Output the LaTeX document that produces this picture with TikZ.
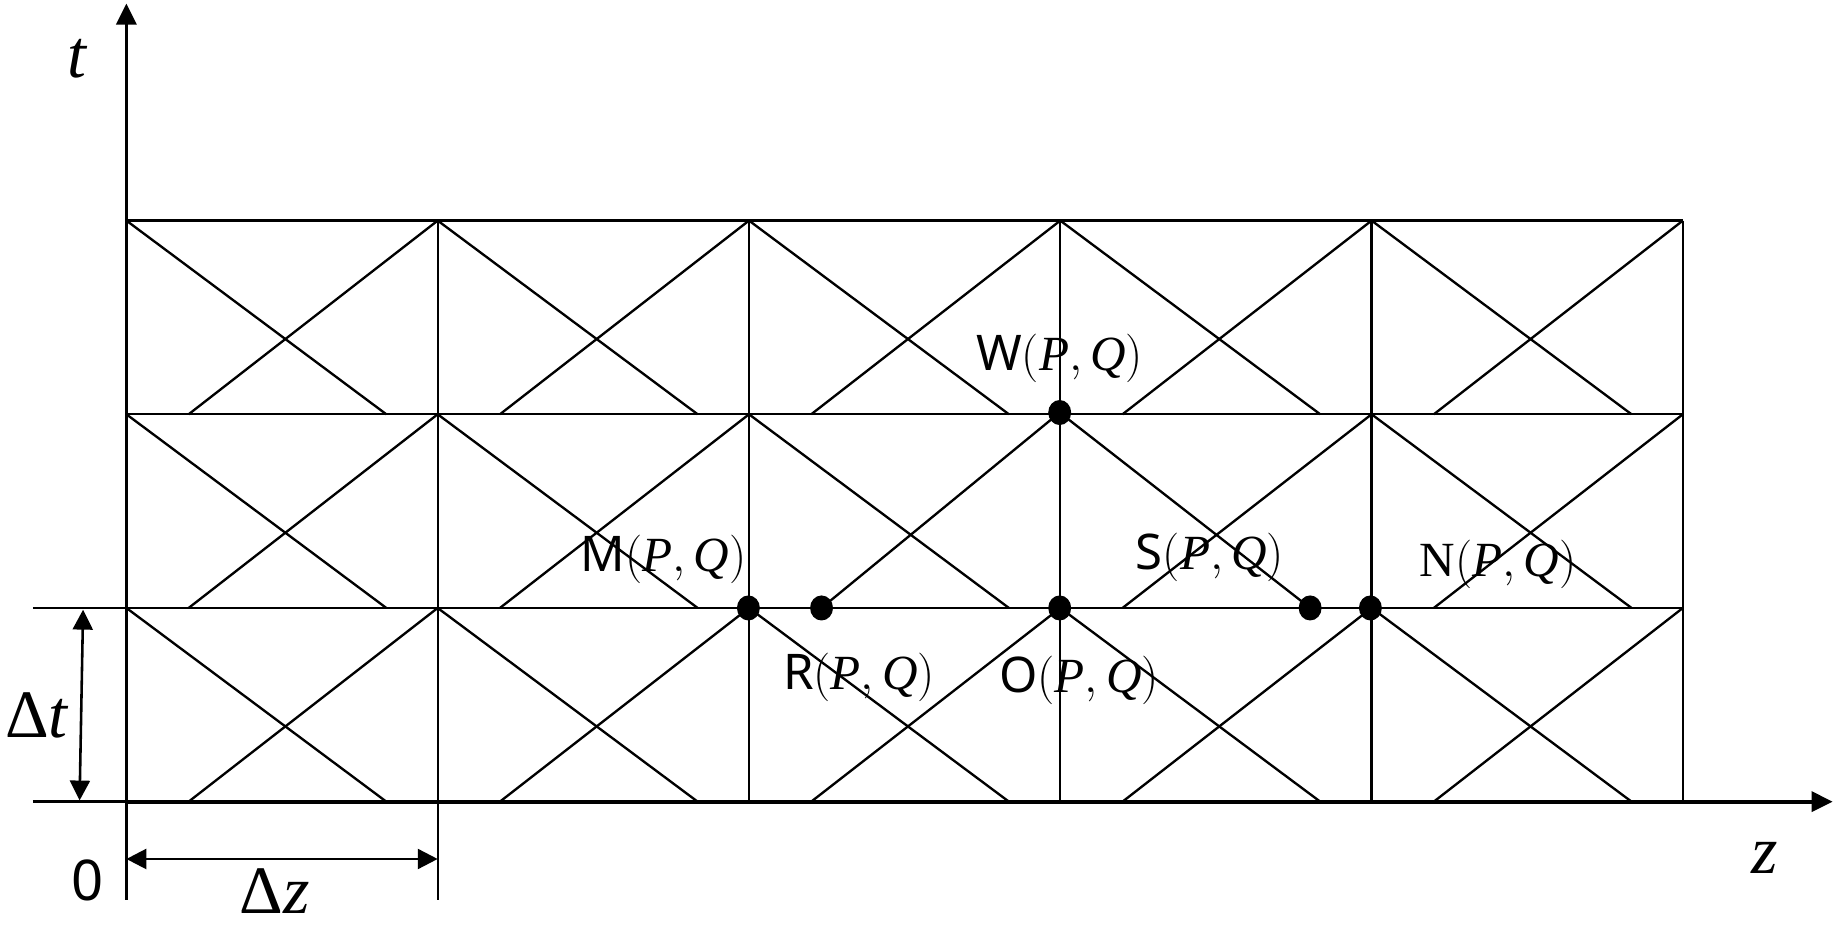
\documentclass[tikz,border=0pt]{standalone}
\usepackage{fontspec}
\usetikzlibrary{arrows.meta,shapes.geometric}
\newfontfamily\lblsans{Noto Sans}
\newfontfamily\lblserif{Liberation Serif}
\newcommand\myvar[1]{\mbox{\lblserif\itshape #1}}
\begin{document}
\begin{tikzpicture}[x=0.5pt,y=-0.5pt,
  gridline/.style={line width=1.0pt},
  axisline/.style={line width=1.6pt,-{Triangle[length=9pt,width=8.5pt]}},
  dimline/.style={line width=1.1pt,{Triangle[length=8.5pt,width=8.5pt]}-{Triangle[length=8.5pt,width=8.5pt]}},
  dotnode/.style={ellipse,fill=black,inner sep=0pt,minimum width=9.8pt,minimum height=10.7pt},
  lbl/.style={font=\fontsize{21}{25}\selectfont\lblsans,inner sep=0pt},
  mathlbl/.style={font=\fontsize{29}{33}\selectfont\lblserif,inner sep=0pt}]
\useasboundingbox (0,0) rectangle (1568,796);

% horizontal grid lines
\foreach \yy in {188.5,354,519.5}{
  \draw[gridline] (108,\yy) -- (1438,\yy);
}
% vertical grid lines
\foreach \xx in {640,906,1172,1438}{
  \draw[gridline] (\xx,188.5) -- (\xx,685);
}
\draw[gridline] (374,188.5) -- (374,769);

% diagonals in every cell
\foreach \i in {0,...,4}{
  \foreach \j in {0,1,2}{
    \pgfmathsetmacro\xa{108+266*\i}
    \pgfmathsetmacro\ya{188.5+165.5*\j}
    \pgfmathsetmacro\yb{\ya+165.5}
    \pgfmathtruncatemacro\skipone{(\i==3)&&(\j==1)}
    \pgfmathtruncatemacro\skiptwo{(\i==2)&&(\j==1)}
    \ifnum\skipone=0
      \draw[gridline] (\xa,\ya) -- ({\xa+0.835*266},\yb);
    \fi
    \ifnum\skiptwo=0
      \draw[gridline] ({\xa+266},\ya) -- ({\xa+0.2*266},\yb);
    \fi
  }
}

% axes
\coordinate (tbot) at (108,769);
\coordinate (ttop) at (108,3);
\coordinate (zleft) at (108,685);
\coordinate (zright) at (1566,685);
\draw[axisline] (tbot) -- (ttop);
\draw[axisline] (zleft) -- (zright);

% extension lines for dt
\coordinate (e1a) at (28,519.5);
\coordinate (e1b) at (108,519.5);
\coordinate (e2a) at (28,685);
\coordinate (e2b) at (108,685);
\draw[gridline] (e1a) -- (e1b);
\draw[gridline] (e2a) -- (e2b);

% dimension arrows
\coordinate (dta) at (71,521);
\coordinate (dtb) at (68,684);
\draw[dimline] (dta) -- (dtb);
\coordinate (dza) at (108,734);
\coordinate (dzb) at (374,734);
\draw[dimline] (dza) -- (dzb);

% points
\node[dotnode] (M) at (639.5,519.5) {};
\node[dotnode] (R) at (702,519.5) {};
\node[dotnode] (O) at (905.5,519.5) {};
\node[dotnode] (W) at (905.5,352.5) {};
\node[dotnode] (S) at (1119.5,519.5) {};
\node[dotnode] (N) at (1171,519.5) {};

\draw[gridline] (W.center) -- (R.center);
\draw[gridline] (W.center) -- (S.center);

% labels
\node[lbl] (Wl) at (905.5,306) {W$(\myvar{P},\myvar{Q})$};
\node[lbl] (Ml) at (567,478) {M$(\myvar{P},\myvar{Q})$};
\node[lbl] (Rl) at (734,579) {R$(\myvar{P},\myvar{Q})$};
\node[lbl] (Ol) at (922,581) {O$(\myvar{P},\myvar{Q})$};
\node[lbl] (Sl) at (1034,476) {S$(\myvar{P},\myvar{Q})$};
\node[lbl,font=\fontsize{21}{25}\selectfont\lblserif] (Nl) at (1280,482) {N$(\myvar{P},\myvar{Q})$};

\node[mathlbl] (tl) at (66,50) {\itshape t};
\node[mathlbl] (zl) at (1508,733) {\itshape z};
\node[mathlbl] (dtl) at (31,611) {Δ\itshape t};
\node[mathlbl,anchor=base] (dzl) at (235,781) {Δ\itshape z};
\node[font=\fontsize{24}{28}\selectfont\lblsans,inner sep=0pt] (zero) at (75,752) {0};
\end{tikzpicture}
\end{document}
